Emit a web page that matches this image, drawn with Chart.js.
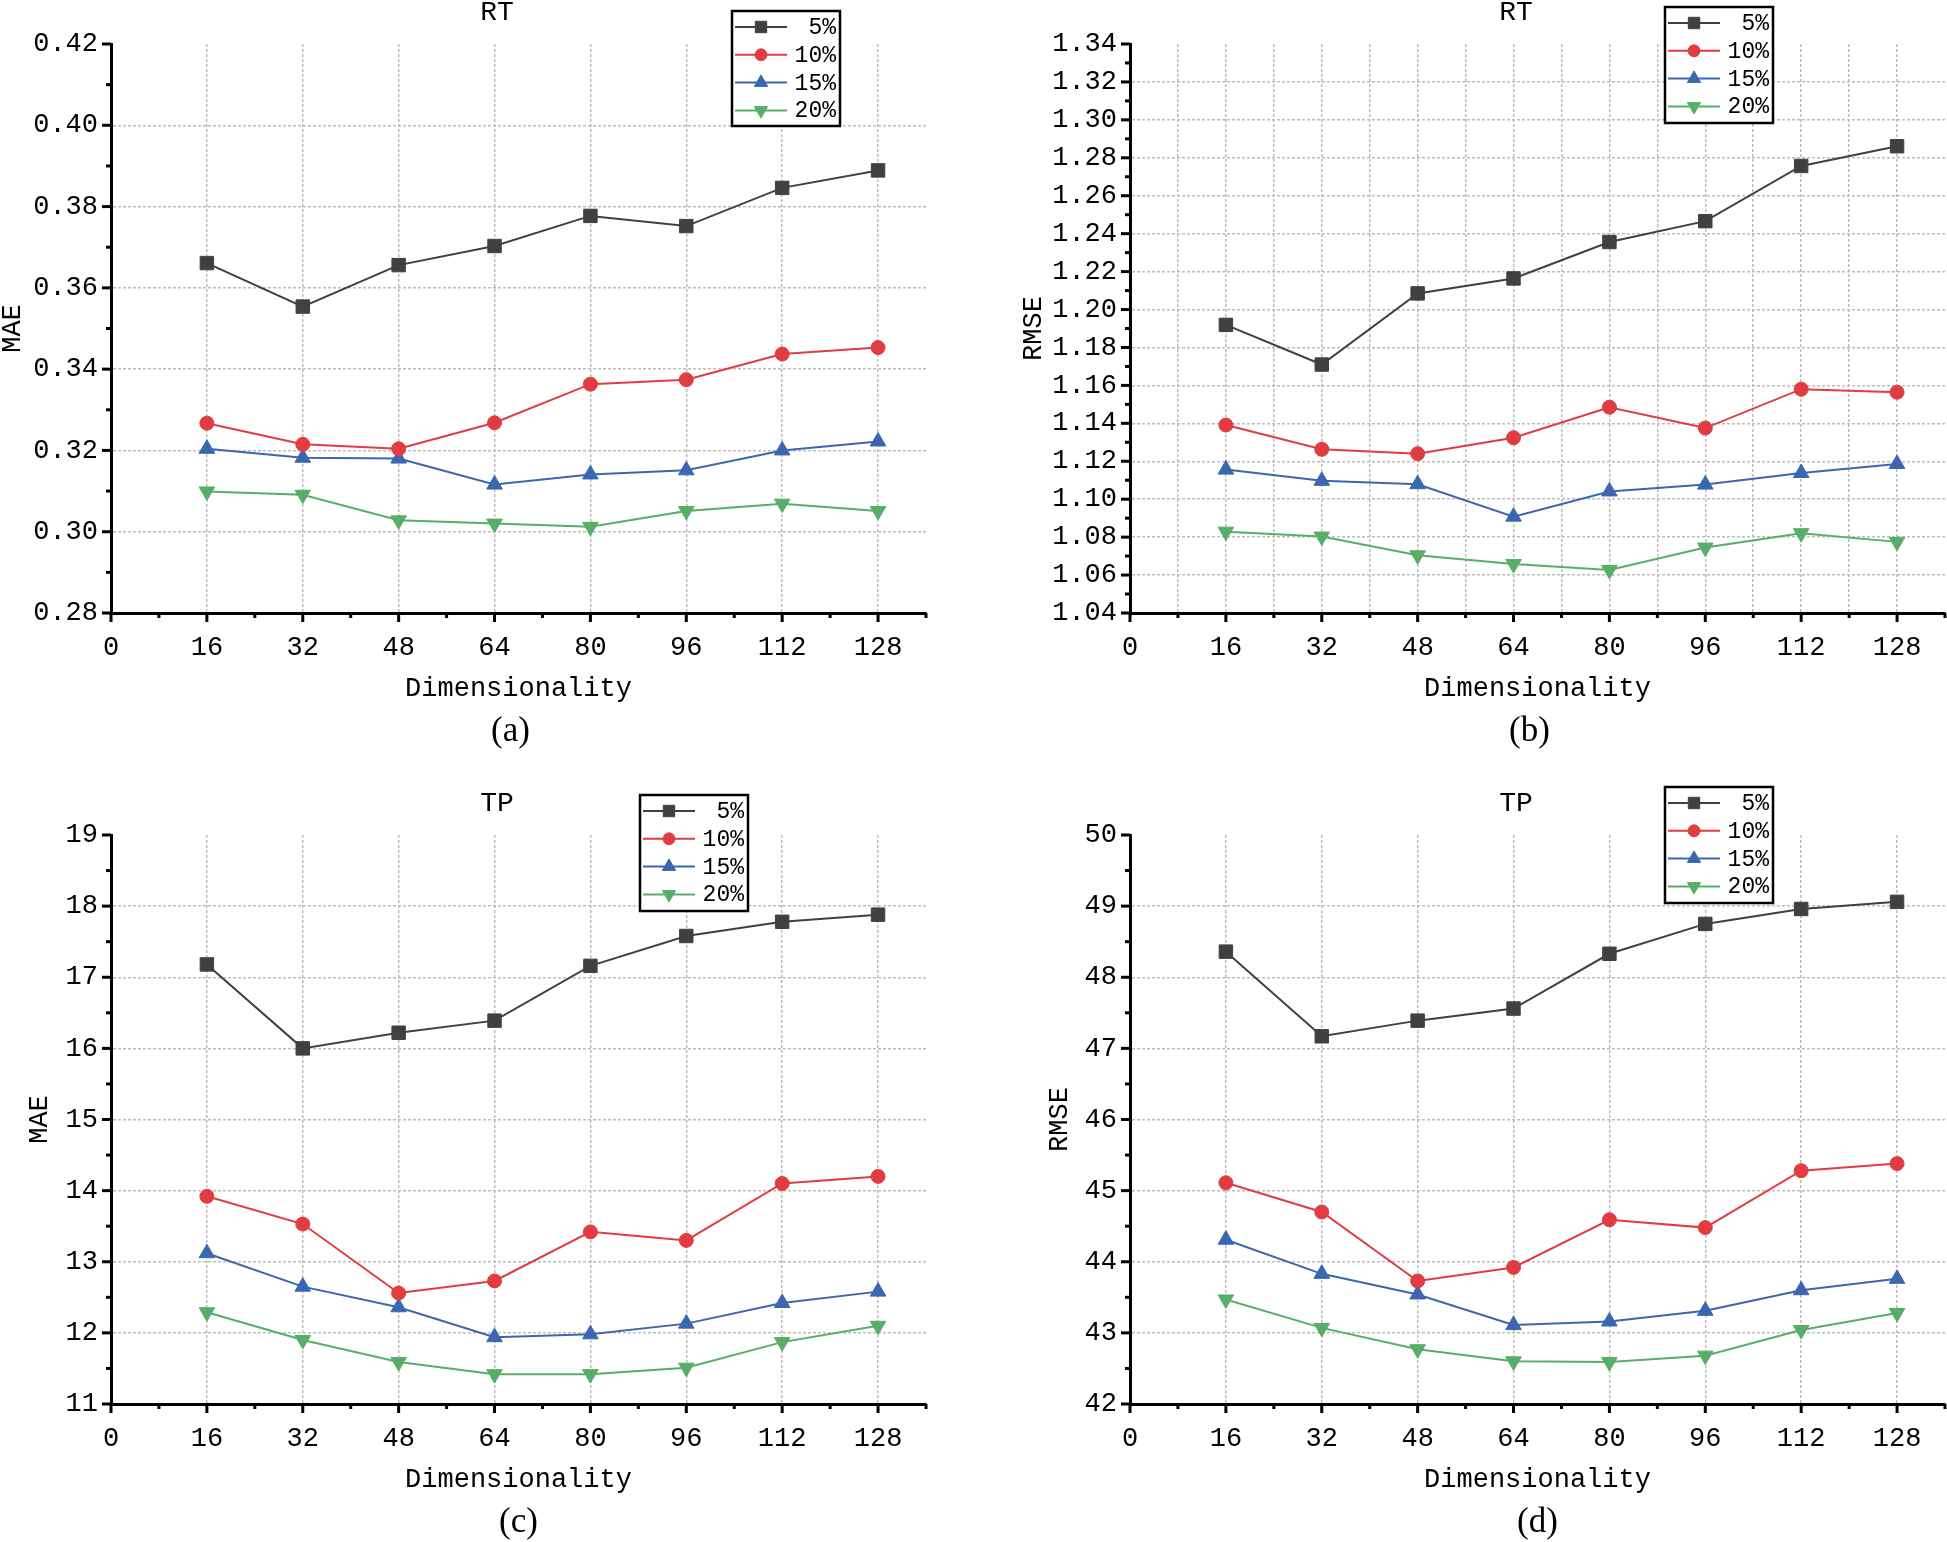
<!DOCTYPE html>
<html><head><meta charset="utf-8">
<script src="https://cdn.jsdelivr.net/npm/chart.js@4/dist/chart.umd.min.js"></script>
<style>
html,body{margin:0;padding:0;background:#fff;overflow:hidden;}
#wrap{position:relative;width:1947px;height:1542px;overflow:hidden;background:#fff;}
canvas{position:absolute;}
</style></head><body><div id="wrap">
<canvas id="ca" width="973" height="771" style="left:0;top:0;width:973px;height:771px"></canvas>
<canvas id="cb" width="1000" height="771" style="left:973px;top:0;width:1000px;height:771px"></canvas>
<canvas id="cc" width="973" height="771" style="left:0;top:771px;width:973px;height:771px"></canvas>
<canvas id="cd" width="1000" height="771" style="left:973px;top:771px;width:1000px;height:771px"></canvas>
</div>
<script>
// ---------- data ----------
const dims = [16, 32, 48, 64, 80, 96, 112, 128];
const seriesLabels = ['5%', '10%', '15%', '20%'];

const rtMae5  = [0.3661, 0.3554, 0.3656, 0.3703, 0.3777, 0.3752, 0.3846, 0.3889];
const rtMae10 = [0.3267, 0.3215, 0.3204, 0.3268, 0.3363, 0.3374, 0.3437, 0.3453];
const rtMae15 = [0.3204, 0.3182, 0.3180, 0.3116, 0.3141, 0.3151, 0.3200, 0.3222];
const rtMae20 = [0.3099, 0.3091, 0.3028, 0.3020, 0.3012, 0.3051, 0.3069, 0.3051];

const rtRmse5  = [1.1919, 1.1710, 1.2085, 1.2164, 1.2356, 1.2466, 1.2757, 1.2861];
const rtRmse10 = [1.1391, 1.1263, 1.1240, 1.1324, 1.1485, 1.1375, 1.1580, 1.1564];
const rtRmse15 = [1.1156, 1.1097, 1.1079, 1.0908, 1.1041, 1.1077, 1.1138, 1.1186];
const rtRmse20 = [1.0829, 1.0803, 1.0704, 1.0658, 1.0627, 1.0745, 1.0821, 1.0775];

const tpMae5  = [17.18, 16.00, 16.22, 16.39, 17.16, 17.58, 17.78, 17.88];
const tpMae10 = [13.92, 13.53, 12.56, 12.73, 13.42, 13.30, 14.10, 14.20];
const tpMae15 = [13.12, 12.65, 12.36, 11.94, 11.98, 12.13, 12.42, 12.58];
const tpMae20 = [12.29, 11.90, 11.59, 11.42, 11.42, 11.51, 11.87, 12.10];

const tpRmse5  = [48.36, 47.17, 47.39, 47.56, 48.33, 48.75, 48.96, 49.06];
const tpRmse10 = [45.11, 44.70, 43.73, 43.92, 44.59, 44.48, 45.28, 45.38];
const tpRmse15 = [44.31, 43.83, 43.54, 43.11, 43.16, 43.31, 43.60, 43.76];
const tpRmse20 = [43.47, 43.07, 42.77, 42.60, 42.59, 42.68, 43.04, 43.28];

// ---------- style ----------
const MONO = '"Liberation Mono", "DejaVu Sans Mono", monospace';
const SERIF = '"Liberation Serif", "DejaVu Serif", serif';
const GRID = '#bdbdbd';
const NONE = 'rgba(0,0,0,0)';
const colors = ['#404040', '#e03c42', '#3b66b0', '#58ae68'];
const pointStyles = ['rect', 'circle', 'triangle', 'triangle'];
const pointRotations = [0, 0, 0, 180];
const pointRadii = [9.5, 7, 9, 9];

function marker(ctx, style, rot, r, x, y, color) {
  ctx.save();
  ctx.fillStyle = color; ctx.strokeStyle = color; ctx.lineWidth = 1;
  ctx.beginPath();
  if (style === 'rect') { const s = Math.SQRT1_2 * r; ctx.rect(x - s, y - s, 2 * s, 2 * s); }
  else if (style === 'circle') { ctx.arc(x, y, r, 0, Math.PI * 2); }
  else {
    let a = rot * Math.PI / 180;
    ctx.moveTo(x + Math.sin(a) * r, y - Math.cos(a) * r);
    a += 2 * Math.PI / 3; ctx.lineTo(x + Math.sin(a) * r, y - Math.cos(a) * r);
    a += 2 * Math.PI / 3; ctx.lineTo(x + Math.sin(a) * r, y - Math.cos(a) * r);
    ctx.closePath();
  }
  ctx.fill(); ctx.stroke();
  ctx.restore();
}

const decor = {
  id: 'decor',
  afterDraw(chart, args, opts) {
    const ctx = chart.ctx, ca = chart.chartArea;
    const xs = chart.scales.x, ys = chart.scales.y;
    ctx.save();
    ctx.strokeStyle = '#000'; ctx.lineWidth = 3; ctx.lineCap = 'butt';
    xs.ticks.forEach(t => {
      const px = xs.getPixelForValue(t.value);
      const major = Math.round(t.value) % 16 === 0;
      ctx.beginPath(); ctx.moveTo(px, ca.bottom); ctx.lineTo(px, ca.bottom + (major ? 9 : 5)); ctx.stroke();
    });
    ys.ticks.forEach(t => {
      const py = ys.getPixelForValue(t.value);
      const major = opts.isMajor(t.value);
      ctx.beginPath(); ctx.moveTo(ca.left, py); ctx.lineTo(ca.left - (major ? 9 : 5), py); ctx.stroke();
    });
    // title
    ctx.fillStyle = '#000';
    ctx.textAlign = 'center'; ctx.textBaseline = 'middle';
    ctx.font = '28px ' + MONO;
    ctx.fillText(opts.title, ca.left + 386, ca.top - 31);
    // panel label
    ctx.font = '35px ' + SERIF;
    ctx.fillText(opts.panel, (ca.left + ca.right) / 2 + opts.panelDx, ca.bottom + 119);
    // legend
    const lg = opts.legend;
    ctx.fillStyle = '#fff'; ctx.fillRect(lg.x, lg.y, lg.w, lg.h);
    ctx.strokeStyle = '#000'; ctx.lineWidth = 2.5; ctx.strokeRect(lg.x, lg.y, lg.w, lg.h);
    chart.data.datasets.forEach((ds, i) => {
      const cy = lg.y + 16 + i * 27.8;
      ctx.strokeStyle = ds.borderColor; ctx.lineWidth = 2;
      ctx.beginPath(); ctx.moveTo(lg.x + 3, cy); ctx.lineTo(lg.x + 55, cy); ctx.stroke();
      marker(ctx, ds.pointStyle, ds.pointRotation, ds.pointRadius * 0.85, lg.x + 29, cy, ds.borderColor);
      ctx.fillStyle = '#000'; ctx.font = '23px ' + MONO;
      ctx.textAlign = 'right'; ctx.textBaseline = 'middle';
      ctx.fillText(ds.label, lg.x + lg.w - 4, cy + 1);
    });
    ctx.restore();
  }
};

function makeChart(id, cfg) {
  const datasets = cfg.series.map((vals, i) => ({
    label: seriesLabels[i],
    data: dims.map((d, j) => ({x: d, y: vals[j]})),
    borderColor: colors[i], backgroundColor: colors[i],
    borderWidth: 2,
    pointStyle: pointStyles[i], pointRotation: pointRotations[i], pointRadius: pointRadii[i],
    pointBorderWidth: 1, pointBackgroundColor: colors[i], pointBorderColor: colors[i],
    tension: 0, clip: false
  }));
  const eps = 1e-6;
  return new Chart(document.getElementById(id), {
    type: 'line',
    data: {datasets},
    plugins: [decor],
    options: {
      responsive: false, animation: false, devicePixelRatio: 1, events: [],
      layout: {padding: {left: 0, top: cfg.top, right: cfg.right, bottom: cfg.bottom}},
      plugins: {
        legend: {display: false}, tooltip: {enabled: false},
        decor: {title: cfg.title, panel: cfg.panel, panelDx: cfg.panelDx, legend: cfg.legend, isMajor: cfg.isMajor}
      },
      scales: {
        x: {
          type: 'linear', min: 0, max: 136,
          afterFit: s => { s.height = 100; },
          ticks: {
            stepSize: 8, autoSkip: false, maxRotation: 0, minRotation: 0, padding: 0, maxTicksLimit: 100,
            color: '#000', font: {family: MONO, size: 27},
            callback: v => (Math.round(v) % 16 === 0 ? String(Math.round(v)) : '')
          },
          grid: {
            drawTicks: true, tickLength: 19, tickColor: NONE, lineWidth: 1.5,
            color: c => {
              const v = Math.round(c.tick.value);
              if (v === 0 || v === 136) return NONE;
              return (v % 16 === 0 || cfg.xMinorGrid) ? GRID : NONE;
            }
          },
          border: {display: true, color: '#000', width: 3, dash: [3, 2]},
          title: {display: true, text: 'Dimensionality', color: '#000',
            font: {family: MONO, size: 27, lineHeight: 1}, padding: {top: 0, bottom: 11}}
        },
        y: {
          type: 'linear', min: cfg.min, max: cfg.max,
          afterFit: s => { s.width = cfg.yWidth; },
          ticks: {
            stepSize: cfg.minorStep, autoSkip: false, padding: 13, maxTicksLimit: 100,
            color: '#000', font: {family: MONO, size: 27},
            callback: v => (cfg.isMajor(v) ? cfg.fmt(v) : '')
          },
          grid: {
            drawTicks: false, lineWidth: 1.5,
            color: c => {
              const v = c.tick.value;
              if (v > cfg.max - eps || v < cfg.min + eps) return NONE;
              return cfg.isMajor(v) ? GRID : NONE;
            }
          },
          border: {display: true, color: '#000', width: 3, dash: [3, 2]},
          title: {display: true, text: cfg.yTitle, color: '#000',
            font: {family: MONO, size: 27, lineHeight: 1}, padding: {top: cfg.yTitlePad, bottom: 0}}
        }
      }
    }
  });
}

const majorHundredth = v => Math.round(v * 100) % 2 === 0;
const fmt2 = v => v.toFixed(2);
const majorInt = v => Math.abs(v - Math.round(v)) < 1e-6;
const fmtInt = v => String(Math.round(v));

makeChart('ca', {
  series: [rtMae5, rtMae10, rtMae15, rtMae20], title: 'RT', panel: '(a)', panelDx: -8,
  yTitle: 'MAE', min: 0.28, max: 0.42, minorStep: 0.01, isMajor: majorHundredth, fmt: fmt2,
  yWidth: 111, yTitlePad: -1, top: 44, right: 47, bottom: 58, xMinorGrid: false,
  legend: {x: 732, y: 11, w: 108, h: 115}
});
makeChart('cb', {
  series: [rtRmse5, rtRmse10, rtRmse15, rtRmse20], title: 'RT', panel: '(b)', panelDx: -8,
  yTitle: 'RMSE', min: 1.04, max: 1.34, minorStep: 0.01, isMajor: majorHundredth, fmt: fmt2,
  yWidth: 157, yTitlePad: 47, top: 44, right: 28, bottom: 58, xMinorGrid: true,
  legend: {x: 692, y: 7, w: 108, h: 116}
});
makeChart('cc', {
  series: [tpMae5, tpMae10, tpMae15, tpMae20], title: 'TP', panel: '(c)', panelDx: 0,
  yTitle: 'MAE', min: 11, max: 19, minorStep: 0.5, isMajor: majorInt, fmt: fmtInt,
  yWidth: 111, yTitlePad: 26, top: 64, right: 47, bottom: 38, xMinorGrid: false,
  legend: {x: 640, y: 24, w: 108, h: 116}
});
makeChart('cd', {
  series: [tpRmse5, tpRmse10, tpRmse15, tpRmse20], title: 'TP', panel: '(d)', panelDx: 0,
  yTitle: 'RMSE', min: 42, max: 50, minorStep: 0.5, isMajor: majorInt, fmt: fmtInt,
  yWidth: 157, yTitlePad: 73, top: 64, right: 28, bottom: 38, xMinorGrid: false,
  legend: {x: 692, y: 16, w: 108, h: 116}
});
</script>
</body></html>
